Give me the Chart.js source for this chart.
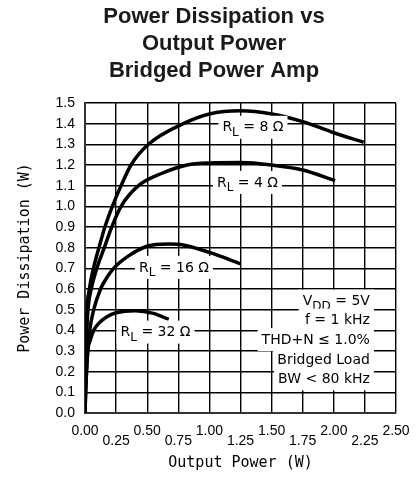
<!DOCTYPE html>
<html>
<head>
<meta charset="utf-8">
<script src="https://cdn.jsdelivr.net/npm/chart.js@4/dist/chart.umd.min.js"></script>
<style>
  body { margin: 0; background: #fff; }
  #wrap { width: 416px; height: 482px; }
</style>
</head>
<body>
<div id="wrap"><canvas id="powerChart"></canvas></div>
<script>
// Tick labels
const xTickLabels = ["0.00", "0.25", "0.50", "0.75", "1.00", "1.25", "1.50", "1.75", "2.00", "2.25", "2.50"];
const yTickLabels = ["0.0", "0.1", "0.2", "0.3", "0.4", "0.5", "0.6", "0.7", "0.8", "0.9", "1.0", "1.1", "1.2", "1.3", "1.4", "1.5"];

// RL = 8 ohm
const out8 = [0, 0.003, 0.008, 0.016, 0.035, 0.068, 0.112, 0.16, 0.22, 0.29, 0.37, 0.51, 0.79, 1.0, 1.25, 1.5, 1.75, 2.0, 2.24];
const diss8 = [0, 0.2, 0.35, 0.5, 0.6, 0.7, 0.8, 0.9, 1.0, 1.1, 1.2, 1.3, 1.4, 1.447, 1.462, 1.447, 1.41, 1.356, 1.31];

// RL = 4 ohm
const out4 = [0, 0.004, 0.011, 0.024, 0.05, 0.095, 0.155, 0.215, 0.29, 0.43, 0.62, 0.82, 1.0, 1.25, 1.5, 1.75, 2.01];
const diss4 = [0, 0.2, 0.35, 0.5, 0.6, 0.7, 0.8, 0.9, 1.0, 1.1, 1.16, 1.2, 1.21, 1.212, 1.2, 1.176, 1.124];

// RL = 16 ohm
const out16 = [0, 0.005, 0.012, 0.022, 0.038, 0.07, 0.125, 0.17, 0.23, 0.35, 0.5, 0.67, 0.75, 1.0, 1.25];
const diss16 = [0, 0.1, 0.2, 0.3, 0.4, 0.5, 0.6, 0.65, 0.7, 0.76, 0.807, 0.818, 0.816, 0.777, 0.722];

// RL = 32 ohm
const out32 = [0, 0.005, 0.012, 0.022, 0.043, 0.07, 0.11, 0.177, 0.25, 0.405, 0.55, 0.673];
const diss32 = [0, 0.1, 0.2, 0.3, 0.353, 0.4, 0.434, 0.466, 0.485, 0.495, 0.482, 0.453];

// Curve labels (sub-script in {})
const curveLabels = ["R{L} = 8 Ω", "R{L} = 4 Ω", "R{L} = 16 Ω", "R{L} = 32 Ω"];
const curveLabelX = [1.35, 1.306, 0.715, 0.567];
const curveLabelY = [1.38, 1.113, 0.702, 0.389];

// Test conditions
const noteLines = ["V{DD} = 5V", "f = 1 kHz", "THD+N ≤ 1.0%", "Bridged Load", "BW < 80 kHz"];
const noteX = 2.29;
const noteY = [0.539, 0.447, 0.353, 0.256, 0.163];

function toPoints(xs, ys) {
    return xs.map((v, i) => ({ x: v, y: ys[i] }));
}

// Draw text with a subscript part and a white box behind it
function drawSubText(ctx, text, px, cy, align) {
    const mainFont = '14px "DejaVu Sans"';
    const subFont = '12px "DejaVu Sans"';
    const parts = [];
    text.split(/(\{[^}]*\})/).forEach(p => {
        if (!p) return;
        if (p[0] === "{") parts.push({ t: p.slice(1, -1), sub: true });
        else parts.push({ t: p, sub: false });
    });
    let total = 0;
    parts.forEach(p => {
        ctx.font = p.sub ? subFont : mainFont;
        p.w = ctx.measureText(p.t).width;
        total += p.w;
    });
    let sx = align === "right" ? px - total : px - total / 2;

    ctx.fillStyle = "#fff";
    ctx.fillRect(sx - 4, cy - 12, total + 8, 23);

    ctx.fillStyle = "#000";
    ctx.textBaseline = "middle";
    ctx.textAlign = "left";
    parts.forEach(p => {
        ctx.font = p.sub ? subFont : mainFont;
        ctx.fillText(p.t, sx, p.sub ? cy + 5 : cy);
        sx += p.w;
    });
}

const notesPlugin = {
    id: "notes",
    afterDatasetsDraw(chart) {
        const { ctx, scales } = chart;
        ctx.save();
        curveLabels.forEach((t, i) => {
            drawSubText(ctx, t, scales.x.getPixelForValue(curveLabelX[i]), scales.y.getPixelForValue(curveLabelY[i]), "center");
        });
        noteLines.forEach((t, i) => {
            drawSubText(ctx, t, scales.x.getPixelForValue(noteX), scales.y.getPixelForValue(noteY[i]), "right");
        });
        ctx.restore();
    }
};

function curve(xs, ys) {
    return {
        data: toPoints(xs, ys),
        borderColor: "#000",
        borderWidth: 3.5,
        pointRadius: 0,
        fill: false,
        cubicInterpolationMode: "monotone"
    };
}

const ctx = document.getElementById("powerChart").getContext("2d");
new Chart(ctx, {
    type: "line",
    data: {
        datasets: [
            curve(out8, diss8),
            curve(out4, diss4),
            curve(out16, diss16),
            curve(out32, diss32)
        ]
    },
    options: {
        responsive: true,
        maintainAspectRatio: false,
        animation: false,
        layout: {
            padding: { left: 32, right: 20, top: 0, bottom: 0 }
        },
        plugins: {
            legend: { display: false },
            tooltip: { enabled: false },
            title: {
                display: true,
                text: ["Power Dissipation vs", "Output Power", "Bridged Power Amp"],
                color: "#1a1a1a",
                font: { family: "Liberation Sans", size: 22, weight: "bold", lineHeight: 1.227 },
                padding: { top: 3, bottom: 19 }
            }
        },
        scales: {
            x: {
                type: "linear",
                min: 0,
                max: 2.5,
                afterFit: (scale) => {
                    scale.height = 69;
                    scale.paddingRight = 0;
                    scale.paddingLeft = 0;
                },
                ticks: {
                    stepSize: 0.25,
                    color: "#000",
                    padding: 13,
                    maxRotation: 0,
                    autoSkip: false,
                    font: { family: "Liberation Sans", size: 14, lineHeight: 0.72 },
                    callback: (value, index) => index % 2 === 0 ? [xTickLabels[index], ""] : ["", xTickLabels[index]]
                },
                grid: { color: "#000", lineWidth: 1.4, drawTicks: false },
                border: { color: "#333", width: 2 },
                title: {
                    display: true,
                    text: "Output Power (W)",
                    color: "#000",
                    font: { family: "DejaVu Sans Mono", size: 15 },
                    padding: { top: 0, bottom: 10 }
                }
            },
            y: {
                min: 0,
                max: 1.5,
                afterFit: (scale) => { scale.width = 53; },
                ticks: {
                    stepSize: 0.1,
                    color: "#000",
                    padding: 10,
                    autoSkip: false,
                    font: { family: "Liberation Sans", size: 14 },
                    callback: (value, index) => yTickLabels[index]
                },
                grid: { color: "#000", lineWidth: 1.4, drawTicks: false },
                border: { color: "#333", width: 2 },
                title: {
                    display: true,
                    text: "Power Dissipation (W)",
                    color: "#000",
                    font: { family: "DejaVu Sans Mono", size: 15 },
                    padding: { top: -15.5, bottom: 0 }
                }
            }
        }
    },
    plugins: [notesPlugin]
});
</script>
</body>
</html>
